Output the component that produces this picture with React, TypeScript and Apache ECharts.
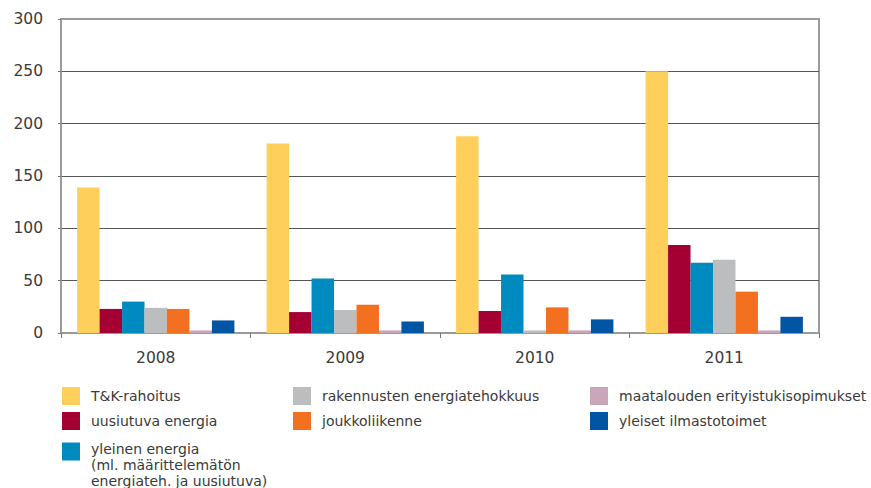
import React, { useEffect, useRef } from "react";
import * as echarts from "echarts";

const years = ["2008", "2009", "2010", "2011"];

const nameTK = "T&K-rahoitus";
const nameUusiutuva = "uusiutuva energia";
const yleinenLines = ["yleinen energia", "(ml. määrittelemätön", "energiateh. ja uusiutuva)"];
const nameYleinen = yleinenLines.join("\n");
const nameRakennus = "rakennusten energiatehokkuus";
const nameJoukko = "joukkoliikenne";
const nameMaatalous = "maatalouden erityistukisopimukset";
const nameYleiset = "yleiset ilmastotoimet";

const tkRahoitus = [139, 181, 188, 250];
const uusiutuvaEnergia = [23, 20, 21, 84];
const yleinenEnergia = [30, 52, 56, 67];
const rakennustenEnergia = [24, 22, 2.5, 70];
const joukkoliikenne = [23, 27, 24.5, 39.5];
const maatalous = [2.5, 2.5, 2.5, 2.5];
const yleisetIlmasto = [12, 11, 13, 15.5];

const yMin = 0;
const yMax = 300;
const yInterval = 50;

const colors = {
  tk: "#FECF5A",
  uusiutuva: "#A50034",
  yleinen: "#008BC0",
  rakennus: "#BCBDBF",
  joukko: "#F37021",
  maatalous: "#C9A7B9",
  yleiset: "#0055A4",
};

const FONT = "DejaVu Sans";
const TEXT = "#3a3a3a";

export default function App() {
  const ref = useRef<HTMLDivElement>(null);
  useEffect(() => {
    if (!ref.current) return;
    const chart = echarts.init(ref.current, undefined, { renderer: "svg" });
    const mk = (name: string, data: number[], color: string) => ({
      name,
      type: "bar",
      data,
      itemStyle: { color },
      barGap: "0%",
      barCategoryGap: "17%",
    });
    const legendText = {
      fontFamily: FONT,
      fontSize: 14,
      color: TEXT,
      padding: [0, 0, 0, 6],
    };
    const legendBase = {
      orient: "vertical",
      itemWidth: 18,
      itemHeight: 18,
      itemGap: 7,
      padding: 0,
      icon: "rect",
      selectedMode: false,
      textStyle: legendText,
    };
    chart.setOption({
      animation: false,
      textStyle: { fontFamily: FONT },
      grid: {
        left: 61,
        right: 52,
        top: 19,
        bottom: 155,
        show: true,
        borderColor: "#9a9a9a",
        borderWidth: 2,
        outerBoundsMode: "none",
      },
      legend: [
        { ...legendBase, left: 62, top: 387, data: [nameTK, nameUusiutuva] },
        {
          ...legendBase,
          left: 62,
          top: 414,
          data: [nameYleinen],
          formatter: () =>
            "{e| }\n{e| }\n" + yleinenLines.map((l) => "{t|" + l + "}").join("\n"),
          textStyle: {
            ...legendText,
            rich: {
              e: { lineHeight: 13, fontSize: 14, fontFamily: FONT },
              t: { lineHeight: 16, fontSize: 14, fontFamily: FONT, color: TEXT },
            },
          },
        },
        { ...legendBase, left: 293, top: 387, data: [nameRakennus, nameJoukko] },
        { ...legendBase, left: 590, top: 387, data: [nameMaatalous, nameYleiset] },
      ],
      xAxis: {
        type: "category",
        data: years,
        axisLine: { show: true, lineStyle: { color: "#9a9a9a", width: 2 } },
        axisTick: { show: true, length: 5, lineStyle: { color: "#777", width: 1 } },
        axisLabel: { color: TEXT, fontFamily: FONT, fontSize: 15.5, margin: 17 },
        splitLine: { show: false },
      },
      yAxis: {
        type: "value",
        min: yMin,
        max: yMax,
        interval: yInterval,
        axisLine: { show: true, lineStyle: { color: "#9a9a9a", width: 2 } },
        axisTick: { show: true, length: 3, lineStyle: { color: "#777", width: 1 } },
        axisLabel: { color: TEXT, fontFamily: FONT, fontSize: 15.5, margin: 18 },
        splitLine: {
          show: true,
          lineStyle: {
            color: ["#9a9a9a", "#555", "#555", "#555", "#555", "#555", "#9a9a9a"],
            width: 1,
          },
        },
      },
      series: [
        mk(nameTK, tkRahoitus, colors.tk),
        mk(nameUusiutuva, uusiutuvaEnergia, colors.uusiutuva),
        mk(nameYleinen, yleinenEnergia, colors.yleinen),
        mk(nameRakennus, rakennustenEnergia, colors.rakennus),
        mk(nameJoukko, joukkoliikenne, colors.joukko),
        mk(nameMaatalous, maatalous, colors.maatalous),
        mk(nameYleiset, yleisetIlmasto, colors.yleiset),
      ],
    });
    return () => chart.dispose();
  }, []);
  return (
    <div
      ref={ref}
      style={{ position: "fixed", left: 0, top: 0, width: 871, height: 488, background: "#fff" }}
    />
  );
}
